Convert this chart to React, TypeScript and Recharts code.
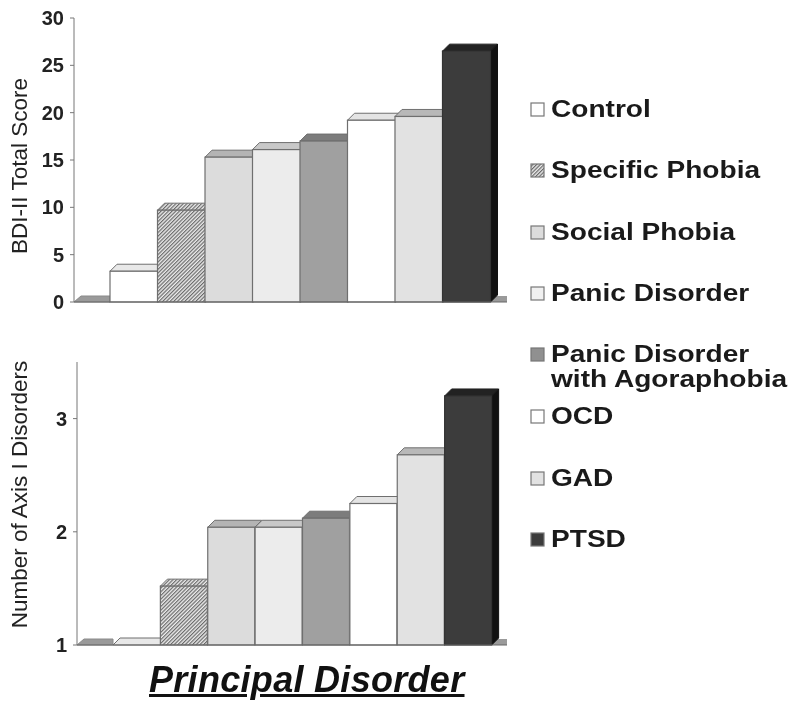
import { BarChart, Bar, XAxis, YAxis } from 'recharts';

const categories = ['Control', 'Specific Phobia', 'Social Phobia', 'Panic Disorder', 'Panic Disorder with Agoraphobia', 'OCD', 'GAD', 'PTSD'];
const bdiScores = [3.25, 9.7, 15.3, 16.1, 17.0, 19.2, 19.6, 26.5];
const axisOneCounts = [1.0, 1.52, 2.04, 2.04, 2.12, 2.25, 2.68, 3.2];
const bdiTicks = [0, 5, 10, 15, 20, 25, 30];
const axisOneTicks = [1, 2, 3];

const fills = ['#ffffff', 'url(#hatch)', '#dcdcdc', '#ececec', '#a0a0a0', '#ffffff', '#e2e2e2', '#3c3c3c'];
const tops = ['#e8e8e8', 'url(#hatch)', '#b4b4b4', '#c8c8c8', '#7c7c7c', '#e4e4e4', '#b8b8b8', '#222222'];
const swatches = ['#ffffff', 'url(#hatch)', '#dcdcdc', '#f0f0f0', '#909090', '#ffffff', '#e2e2e2', '#3c3c3c'];

const legendRows = [
  { name: 'Control', lines: ['Control'], top: 96 },
  { name: 'Specific Phobia', lines: ['Specific Phobia'], top: 157 },
  { name: 'Social Phobia', lines: ['Social Phobia'], top: 219 },
  { name: 'Panic Disorder', lines: ['Panic Disorder'], top: 280 },
  { name: 'Panic Disorder with Agoraphobia', lines: ['Panic Disorder', 'with Agoraphobia'], top: 341 },
  { name: 'OCD', lines: ['OCD'], top: 403 },
  { name: 'GAD', lines: ['GAD'], top: 465 },
  { name: 'PTSD', lines: ['PTSD'], top: 526 },
];

const FONT = '"Liberation Sans", Arial, sans-serif';
const DEPTH = 7;
const EDGE = '#6f6f6f';

const bdiData = categories.map((name, i) => ({ name, value: bdiScores[i] }));
const axisOneData = categories.map((name, i) => ({ name, value: axisOneCounts[i] }));

// one bar with its top and side faces, the floor pieces hang off the first and last bar
const makeBar = (plotLeft: number, plotRight: number) => (props: any) => {
  const { x, y, width, height, index } = props;
  const base = y + height;
  const last = index === categories.length - 1;
  return (
    <g>
      {index === 0 && (
        <polygon
          points={`${plotLeft},${base} ${plotLeft + DEPTH},${base - DEPTH + 1} ${x},${base - DEPTH + 1} ${x},${base}`}
          fill="#9a9a9a"
          stroke="#8a8a8a"
        />
      )}
      {last && (
        <rect x={x + width} y={base - DEPTH + 1} width={plotRight - x - width} height={DEPTH - 1} fill="#9a9a9a" />
      )}
      <polygon
        points={`${x},${y} ${x + DEPTH},${y - DEPTH} ${x + width + DEPTH},${y - DEPTH} ${x + width},${y}`}
        fill={tops[index]}
        stroke={last ? '#222' : EDGE}
      />
      {last && (
        <polygon
          points={`${x + width},${y} ${x + width + DEPTH},${y - DEPTH} ${x + width + DEPTH},${base - DEPTH} ${x + width},${base}`}
          fill="#111"
          stroke="#111"
        />
      )}
      {height > 0 && (
        <rect x={x} y={y} width={width} height={height} fill={fills[index]} stroke={last ? '#333' : EDGE} strokeWidth={1.2} />
      )}
    </g>
  );
};

const HatchDef = () => (
  <defs>
    <pattern id="hatch" width="2.6" height="2.6" patternUnits="userSpaceOnUse" patternTransform="rotate(45)">
      <rect width="2.6" height="2.6" fill="#ececec" />
      <rect width="1.2" height="2.6" fill="#6a6a6a" />
    </pattern>
  </defs>
);

const tickStyle = { fill: '#222', fontSize: 20, fontWeight: 700, fontFamily: FONT };
const labelStyle = { fill: '#222', fontSize: 22.5, fontFamily: FONT, textAnchor: 'middle' as const };

export default function App() {
  return (
    <div style={{ position: 'fixed', left: 0, top: 0, width: 800, height: 712, background: '#fff', fontFamily: FONT, overflow: 'hidden', filter: 'blur(0.5px)' }}>
      <div style={{ position: 'absolute', left: 0, top: 0 }}>
        <BarChart width={520} height={330} data={bdiData} barCategoryGap={0} margin={{ top: 18, right: 13, bottom: 27, left: 0 }}>
          <HatchDef />
          <XAxis dataKey="name" tick={false} tickLine={false} height={1} padding={{ left: 36, right: 17 }} stroke="#666" />
          <YAxis
            width={74}
            domain={[0, 30]}
            ticks={bdiTicks}
            interval={0}
            tick={tickStyle}
            tickSize={4}
            tickMargin={6}
            stroke="#777"
            label={{ value: 'BDI-II Total Score', angle: -90, position: 'insideLeft', dx: 14, dy: 6, style: labelStyle }}
          />
          <Bar dataKey="value" isAnimationActive={false} shape={makeBar(74, 507)} />
        </BarChart>
      </div>

      <div style={{ position: 'absolute', left: 0, top: 340 }}>
        <BarChart width={520} height={330} data={axisOneData} barCategoryGap={0} margin={{ top: 22, right: 13, bottom: 24, left: 0 }}>
          <XAxis dataKey="name" tick={false} tickLine={false} height={1} padding={{ left: 36, right: 15 }} stroke="#666" />
          <YAxis
            width={77}
            domain={[1, 3.5]}
            ticks={axisOneTicks}
            interval={0}
            tick={tickStyle}
            tickSize={4}
            tickMargin={6}
            stroke="#777"
            label={{ value: 'Number of Axis I Disorders', angle: -90, position: 'insideLeft', dx: 14, dy: -9, style: labelStyle }}
          />
          <Bar dataKey="value" isAnimationActive={false} shape={makeBar(77, 507)} />
        </BarChart>
      </div>

      {legendRows.map((row, i) => (
        <div key={row.name} style={{ position: 'absolute', left: 530, top: row.top }}>
          <svg width={16} height={16} style={{ position: 'absolute', left: 0, top: 6 }}>
            <HatchDef />
            <rect x={1} y={1} width={13} height={13} fill={swatches[i]} stroke="#777" strokeWidth={1.2} />
          </svg>
          <div style={{ position: 'absolute', left: 21, top: 0, fontSize: 24, fontWeight: 700, lineHeight: '25px', color: '#1a1a1a', whiteSpace: 'nowrap', transform: 'scaleX(1.17)', transformOrigin: 'left top' }}>
            {row.lines.map((line) => (
              <div key={line}>{line}</div>
            ))}
          </div>
        </div>
      ))}

      <div style={{ position: 'absolute', left: 149, top: 658, fontSize: 36, fontWeight: 700, fontStyle: 'italic', letterSpacing: 0.3, color: '#111', textDecoration: 'underline', whiteSpace: 'nowrap', lineHeight: '44px' }}>
        Principal Disorder
      </div>
    </div>
  );
}
